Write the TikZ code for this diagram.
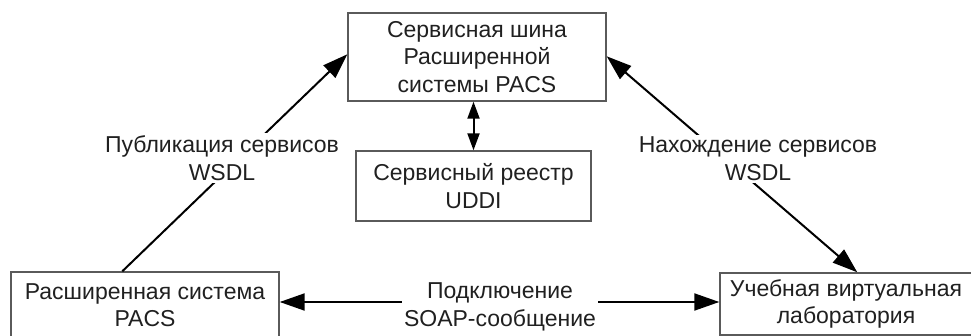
\documentclass[tikz,border=0pt]{standalone}
\usepackage{fontspec}
\setmainfont{Liberation Sans}
\usetikzlibrary{arrows.meta}
\definecolor{boxgray}{HTML}{5A5A5A}
\definecolor{txt}{HTML}{202020}
\tikzset{
  box/.style={draw=boxgray, line width=1.4pt, rectangle, align=center, inner sep=0pt,
              text=txt, font=\fontsize{23}{27.5}\selectfont},
  lbl/.style={fill=white, align=center, inner sep=2pt, text=txt,
              font=\fontsize{23}{28}\selectfont},
  arr/.style={line width=2pt, -{Triangle[length=25pt,width=17pt]}},
  darr/.style={line width=2pt, {Triangle[length=25pt,width=17pt]}-{Triangle[length=25pt,width=17pt]}},
  varr/.style={line width=2pt, {Triangle[length=17pt,width=12pt]}-{Triangle[length=17pt,width=12pt]}}
}
\begin{document}
\begin{tikzpicture}[x=1pt,y=-1pt]
\useasboundingbox (0,0) rectangle (971,336);
\clip (0,0) rectangle (971,336);
% boxes
\node[box, minimum width=258pt, minimum height=88pt] (top) at (477,57)
  {Сервисная шина\\Расширенной\\системы PACS};
\node[box, minimum width=235pt, minimum height=70pt] (reg) at (473.5,186)
  {Сервисный реестр\\UDDI};
\node[box, minimum width=268pt, minimum height=66pt] (lb) at (145,305)
  {Расширенная система\\PACS};
\node[box, minimum width=252pt, minimum height=62pt] (rb) at (846,304)
  {Учебная виртуальная\\лаборатория};
% connectors
\draw[varr] (top.south -| reg.north) -- (reg.north);
\draw[arr] ([xshift=112pt]lb.north west) -- ([yshift=-42pt]top.north west);
\draw[darr] ([yshift=-44pt]top.north east) -- ([xshift=138pt]rb.north west);
\draw[darr] ([yshift=3pt]lb.east) -- ([yshift=3pt]lb.east -| rb.west);
% labels
\node[lbl] (l1) at (222,158) {Публикация сервисов\\WSDL};
\node[lbl] (l2) at (758,159) {Нахождение сервисов\\WSDL};
\node[lbl] (l3) at (500,307) {Подключение\\SOAP-сообщение};
\end{tikzpicture}
\end{document}
